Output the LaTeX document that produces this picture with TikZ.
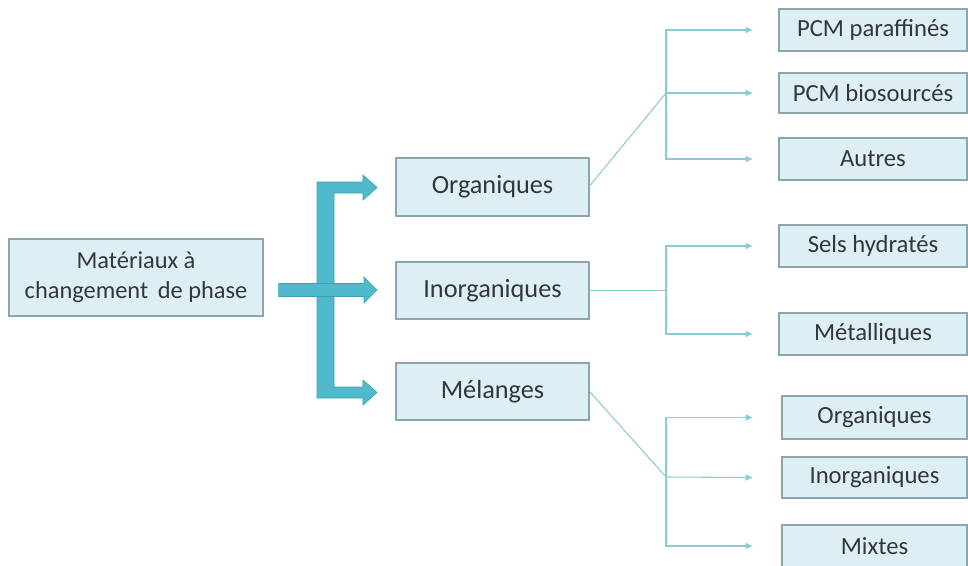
\documentclass[tikz,border=0pt]{standalone}
\usepackage{fontspec}
\setmainfont{Carlito}
\usetikzlibrary{arrows.meta,calc}
\definecolor{boxfill}{RGB}{221,239,245}
\definecolor{boxline}{RGB}{140,166,176}
\definecolor{bigfill}{RGB}{80,186,204}
\definecolor{bigline}{RGB}{62,160,178}
\definecolor{thin}{RGB}{140,202,212}
\definecolor{txt}{RGB}{50,55,58}
\tikzset{
  box/.style 2 args={draw=boxline, fill=boxfill, line width=0.9pt, text=txt,
    minimum width=#1*0.75pt, minimum height=#2*0.75pt, inner sep=0pt, align=center},
  lefttxt/.style={font=\fontsize{18.3}{22.5}\selectfont},
  midtxt/.style={font=\fontsize{19.7}{22.5}\selectfont},
  righttxt/.style={font=\fontsize{18.5}{22}\selectfont},
  conn/.style={draw=thin, line width=0.8pt, -{Triangle[length=5pt,width=4.5pt]}},
  connline/.style={draw=thin, line width=0.8pt},
  bigarrow/.style={fill=bigfill, draw=bigline, line width=0.5pt, line join=miter}
}
\begin{document}
\begin{tikzpicture}[x=0.75pt,y=-0.75pt]
\useasboundingbox (0,0) rectangle (968,565);
\clip (0,0) rectangle (968,565);

% nodes
\node[box={254}{77}, lefttxt] (mat) at (136,277.5) {Matériaux à\\changement\, de phase};
\node[box={193}{58}, midtxt] (org) at (492.5,187) {Organiques};
\node[box={193}{57}, midtxt] (inorg) at (492.5,290.5) {Inorganiques};
\node[box={193}{57}, midtxt] (mel) at (492.5,391.5) {Mélanges};

\node[box={188}{42}, righttxt] (pcm1) at (873,30) {PCM paraffinés};
\node[box={188}{40}, righttxt] (pcm2) at (873,93) {PCM biosourcés};
\node[box={188}{42}, righttxt] (aut) at (873,159) {Autres};
\node[box={188}{42}, righttxt] (sels) at (873,246) {Sels hydratés};
\node[box={188}{42}, righttxt] (met) at (873,334) {Métalliques};
\node[box={185}{43}, righttxt] (org2) at (874.5,417.5) {Organiques};
\node[box={185}{41}, righttxt] (inorg2) at (874.5,477.5) {Inorganiques};
\node[box={185}{42}, righttxt] (mix) at (874.5,546) {Mixtes};

% big bracket arrow
\path[bigarrow]
  (317,182) -- (363,182) -- (363,175) -- (377,187.5) -- (363,200) -- (363,193)
  -- (334,193) -- (334,387) -- (363,387) -- (363,380) -- (377,392.5) -- (363,405)
  -- (363,398) -- (317,398) -- cycle;
\path[bigarrow]
  ([xshift=11.25pt]mat.east |- 0,283.5) -- (364,283.5) -- (364,277) -- (377,290)
  -- (364,303) -- (364,296.5) -- ([xshift=11.25pt]mat.east |- 0,296.5) -- cycle;

% junctions
\coordinate (j1) at (666,93);
\coordinate (j2) at (666,290.5);
\coordinate (j3) at (666,477);

% Organiques branch
\draw[connline] ([yshift=0.75pt]org.east) -- (j1);
\draw[conn] (j1) |- ([xshift=-19.5pt]pcm1.west);
\draw[conn] (j1) -- ([xshift=-19.5pt]pcm2.west);
\draw[conn] (j1) |- ([xshift=-19.5pt]aut.west);

% Inorganiques branch
\draw[connline] (inorg.east) -- (j2);
\draw[conn] (j2) |- ([xshift=-19.5pt]sels.west);
\draw[conn] (j2) |- ([xshift=-19.5pt]met.west);

% Melanges branch
\draw[connline] (mel.east) -- (j3);
\draw[conn] (j3) |- ([xshift=-21.75pt]org2.west);
\draw[conn] (j3) -- ([xshift=-21.75pt]inorg2.west);
\draw[conn] (j3) |- ([xshift=-21.75pt]mix.west);
\end{tikzpicture}
\end{document}
